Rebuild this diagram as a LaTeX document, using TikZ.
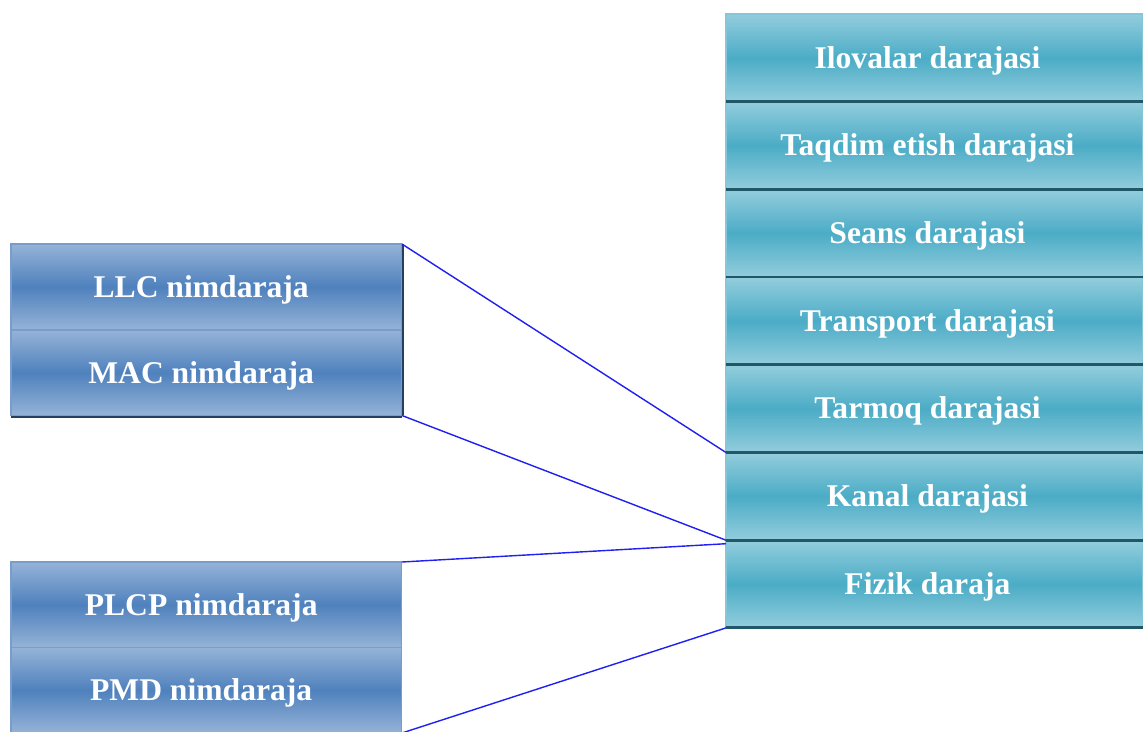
\documentclass[tikz,border=0pt]{standalone}
\usepackage{fontspec}
\setmainfont{Liberation Serif}
\usetikzlibrary{positioning}

\definecolor{subdark}{HTML}{4F81BD}
\definecolor{sublight}{HTML}{95B3D7}
\definecolor{subedge}{HTML}{7A9CCB}
\definecolor{subshadow}{HTML}{243F60}
\definecolor{laydark}{HTML}{4BACC6}
\definecolor{laylight}{HTML}{93CDDD}
\definecolor{layshadow}{HTML}{215867}
\definecolor{linkblue}{HTML}{2020F0}

\tikzset{
  sublayer/.style={rectangle, inner sep=0pt, outer sep=0pt,
    minimum width=7.82cm, minimum height=1.71cm,
    text height=12.2pt, text depth=0.5pt,
    top color=sublight, bottom color=sublight, middle color=subdark,
    draw=subedge, line width=0.6pt,
    execute at begin node={\hspace*{-6pt}},
    text=white, font=\fontsize{18}{20}\selectfont\bfseries},
  layer/.style={rectangle, inner sep=0pt, outer sep=0pt,
    minimum width=8.34cm, minimum height=1.754cm,
    text height=12.2pt, text depth=0.5pt,
    top color=laylight, bottom color=laylight, middle color=laydark,
    draw=laylight!80!laydark, line width=0.6pt,
    execute at begin node={\hspace*{-8pt}},
    text=white, font=\fontsize{18}{20}\selectfont\bfseries},
  link/.style={draw=linkblue, line width=0.8pt}
}

\begin{document}
\begin{tikzpicture}[x=0.02cm,y=-0.02cm]
        \useasboundingbox [fill=white] (0,0) rectangle (1143,731);
        %
        % OSI layers on the right
        \node [layer, anchor=north west] (ilova)     at (726,14)    {Ilovalar darajasi};
        \node [layer, anchor=north west] (taqdim)    at (726,101.7) {Taqdim etish darajasi};
        \node [layer, anchor=north west] (seans)     at (726,189.4) {Seans darajasi};
        \node [layer, anchor=north west] (transport) at (726,277.1) {Transport darajasi};
        \node [layer, anchor=north west] (tarmoq)    at (726,364.8) {Tarmoq darajasi};
        \node [layer, anchor=north west] (kanal)     at (726,452.5) {Kanal darajasi};
        \node [layer, anchor=north west] (fizik)     at (726,540.2) {Fizik daraja};
        %
        \foreach \lay in {ilova,taqdim,seans,transport,tarmoq,kanal,fizik}
          \draw [layshadow, line width=1.6pt] (\lay.south west) -- (\lay.south east);
        %
        % sublayers on the left
        \node [sublayer, anchor=north west] (llc)  at (11,244) {LLC nimdaraja};
        \node [sublayer, anchor=north west] (mac)  at (11,330) {MAC nimdaraja};
        \node [sublayer, anchor=north west] (plcp) at (11,562) {PLCP nimdaraja};
        \node [sublayer, anchor=north west] (pmd)  at (11,647.5) {PMD nimdaraja};
        %
        \draw [subshadow, line width=1.5pt] ([yshift=-0.8pt]mac.south west) -- ([yshift=-0.8pt]mac.south east);
        \draw [subshadow, line width=0.8pt] ([xshift=0.5pt]llc.north east) -- ([xshift=0.5pt]mac.south east);
        %
        % links
        \draw [link] (llc.north east) -- (kanal.north west);
        \draw [link] (mac.south east) -- (fizik.north west);
        \draw [link] (plcp.north east) -- ([yshift=-2pt]fizik.north west);
        \draw [link] (pmd.south east) -- (fizik.south west);
\end{tikzpicture}
\end{document}
